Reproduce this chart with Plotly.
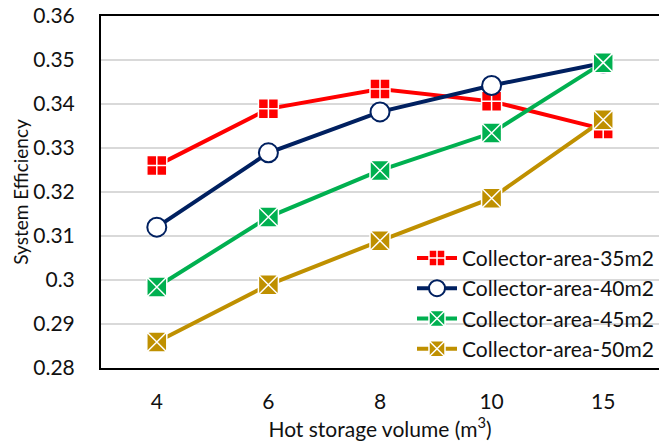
import plotly.graph_objects as go

volumes = ["4", "6", "8", "10", "15"]
series_names = ["Collector-area-35m2", "Collector-area-40m2", "Collector-area-45m2", "Collector-area-50m2"]
eff_35 = [0.3260, 0.3389, 0.3434, 0.3406, 0.3343]
eff_40 = [0.3120, 0.3289, 0.3382, 0.3442, 0.3493]
eff_45 = [0.2984, 0.3143, 0.3249, 0.3334, 0.3494]
eff_50 = [0.2859, 0.2989, 0.3089, 0.3186, 0.3364]
y_ticks = [0.28, 0.29, 0.30, 0.31, 0.32, 0.33, 0.34, 0.35, 0.36]

colors = ["#ff0000", "#002060", "#00b050", "#bf9000"]
symbols = ["square-cross", "circle", "square-x", "square-x"]
fills = ["#ff0000", "#ffffff", "#00b050", "#bf9000"]
edges = ["#ffffff", "#002060", "#ffffff", "#ffffff"]
edge_w = [1.5, 2, 1.5, 1.5]

font = "Lato, Open Sans, sans-serif"
fig = go.Figure()
for name, vals, c, s, f, e, w in zip(series_names, [eff_35, eff_40, eff_45, eff_50], colors, symbols, fills, edges, edge_w):
    fig.add_trace(go.Scatter(
        x=volumes, y=vals, name=name, mode="lines+markers",
        line=dict(color=c, width=4),
        marker=dict(symbol=s, size=20 if s != "circle" else 19, color=f, line=dict(color=e, width=w)),
    ))

fig.update_layout(
    width=659, height=441,
    margin=dict(l=101, r=0, t=16, b=73),
    paper_bgcolor="white", plot_bgcolor="white",
    font=dict(family=font, size=21, color="#111111"),
    showlegend=True,
    legend=dict(x=1, xanchor="right", y=-0.005, yanchor="bottom", bgcolor="rgba(255,255,255,0)",
                font=dict(size=21), tracegroupgap=0, itemwidth=40),
    xaxis=dict(type="category", range=[-0.5, 4.5], showline=True, mirror=True, linecolor="black", linewidth=2,
               showgrid=False, ticks="", tickfont=dict(size=21), ticklabelstandoff=14,
               title=dict(text="Hot storage volume (m<sup>3</sup>)", font=dict(size=21), standoff=0)),
    yaxis=dict(range=[0.28, 0.36], tickvals=y_ticks, showline=True, linecolor="black", linewidth=2,
               showgrid=True, gridcolor="#d9d9d9", gridwidth=1.5, zeroline=False, ticks="",
               tickfont=dict(size=21), ticklabelstandoff=20,
               title=dict(text="System Efficiency", font=dict(size=19), standoff=0)),
)
fig.update_yaxes(ticktext=[("%g" % v) for v in y_ticks])
fig.write_html("out.html")
